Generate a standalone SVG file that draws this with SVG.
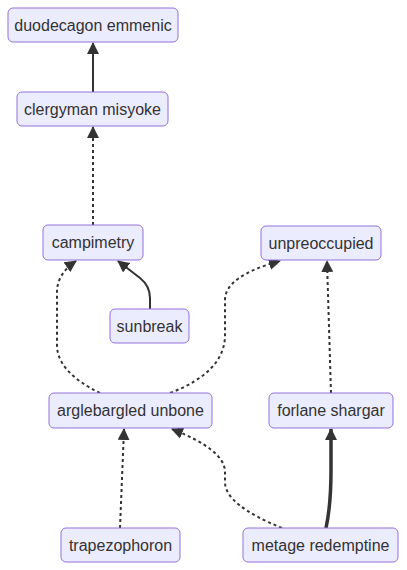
<svg xmlns="http://www.w3.org/2000/svg" width="407" height="570" viewBox="0 0 407 570">
<style>
.node rect{fill:#ECECFF;stroke:#9370DB;stroke-width:1px;}
.node text{font-family:"Liberation Sans","DejaVu Sans",sans-serif;font-size:16px;fill:#333;text-anchor:middle;dominant-baseline:central;}
.edge{fill:none;stroke:#333;stroke-width:2px;}
.dot{stroke-dasharray:3 3;}
.thick{stroke-width:3.5px;}
</style>
<defs>
<marker id="ah" viewBox="0 0 10 10" refX="9" refY="5" markerWidth="6" markerHeight="6" markerUnits="userSpaceOnUse" orient="auto" overflow="visible">
<path d="M0,0 L10,5 L0,10 z" fill="#333" transform="scale(1.2) translate(-1.5,-0.83)"/>
</marker>
<marker id="a" viewBox="0 0 12 12" refX="11" refY="6" markerWidth="12" markerHeight="12" markerUnits="userSpaceOnUse" orient="auto">
<path d="M0,0 L12,6 L0,12 z" fill="#333"/>
</marker>
</defs>
<g id="connectors">
<path class="edge" d="M93,92 L93,43" marker-end="url(#a)"/>
<path class="edge dot" d="M93,225 L93,127" marker-end="url(#a)"/>
<path class="edge" d="M150,309 L150,298 Q150,286 140,278 L118,261" marker-end="url(#a)"/>
<path class="edge dot" d="M100,393 Q57,372 57,345 L57,292 Q57,274 76,261" marker-end="url(#a)"/>
<path class="edge dot" d="M170,393 Q225,372 225,335 L225,300 Q225,276 280,261" marker-end="url(#a)"/>
<path class="edge dot" d="M331,393 L327,261" marker-end="url(#a)"/>
<path class="edge dot" d="M120,528 L124,429" marker-end="url(#a)"/>
<path class="edge dot" d="M282,528 Q225,505 225,482 L225,472 Q225,450 172,429" marker-end="url(#a)"/>
<path class="edge thick" d="M326,528 Q331,505 331,470 L331,429" marker-end="url(#a)"/>
</g>
<g id="duodecagon-emmenic" class="node"><rect x="8" y="8" width="170" height="34" rx="5"/><text x="93" y="25">duodecagon emmenic</text></g>
<g id="clergyman-misyoke" class="node"><rect x="17" y="92" width="151" height="34" rx="5"/><text x="92.5" y="109">clergyman misyoke</text></g>
<g id="campimetry" class="node"><rect x="43" y="225" width="100" height="35" rx="5"/><text x="93" y="242.5">campimetry</text></g>
<g id="sunbreak" class="node"><rect x="110" y="309" width="79" height="34" rx="5"/><text x="149.5" y="326">sunbreak</text></g>
<g id="unpreoccupied" class="node"><rect x="261" y="226" width="120" height="34" rx="5"/><text x="321" y="243">unpreoccupied</text></g>
<g id="arglebargled-unbone" class="node"><rect x="49" y="393" width="163" height="35" rx="5"/><text x="130.5" y="410.5">arglebargled unbone</text></g>
<g id="forlane-shargar" class="node"><rect x="269" y="393" width="124" height="35" rx="5"/><text x="331" y="410.5">forlane shargar</text></g>
<g id="trapezophoron" class="node"><rect x="61" y="528" width="119" height="34" rx="5"/><text x="120.5" y="545">trapezophoron</text></g>
<g id="metage-redemptine" class="node"><rect x="243" y="528" width="155" height="34" rx="5"/><text x="320.5" y="545">metage redemptine</text></g>
</svg>
